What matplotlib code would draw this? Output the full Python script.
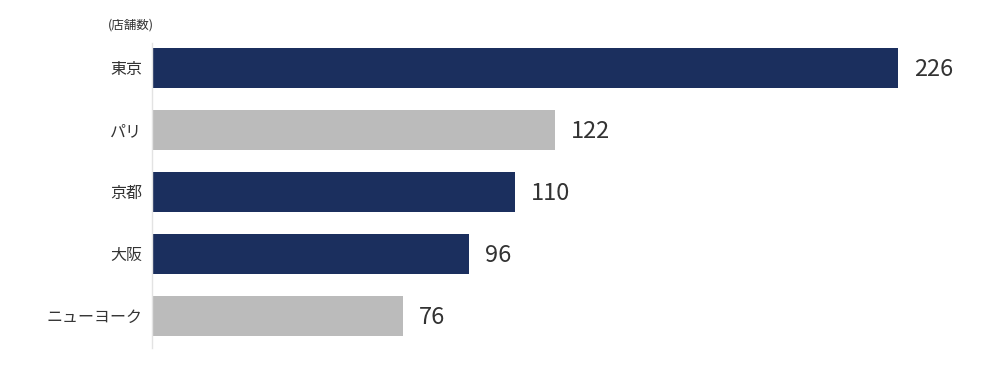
import matplotlib
matplotlib.use("Agg")
import matplotlib.pyplot as plt
from matplotlib.transforms import offset_copy

plt.rcParams['font.family'] = ['Noto Sans CJK JP', 'DejaVu Sans']

cities = ['東京', 'パリ', '京都', '大阪', 'ニューヨーク']
stores = [226, 122, 110, 96, 76]
highlight = [True, False, True, True, False]

navy = '#1b2f5e'
grey = '#bbbbbb'

fig = plt.figure(figsize=(10, 3.7), dpi=100)
ax = fig.add_axes([0.152, 0.0595, 0.828, 0.824])

ypos = list(range(len(cities)))
colors = [navy if h else grey for h in highlight]
ax.barh(ypos, stores, height=0.645, color=colors)

ax.set_xlim(0, 250.8)
ax.set_ylim(4.52, -0.40)

ax.set_yticks(ypos)
ax.set_yticklabels(cities, fontsize=11.5, color='#333333')
ax.tick_params(axis='y', length=0, pad=7)
ax.set_xticks([])

for s in ['top', 'right', 'bottom']:
    ax.spines[s].set_visible(False)
ax.spines['left'].set_color('#e3e3e3')
ax.spines['left'].set_linewidth(1)

# value labels
trans = offset_copy(ax.transData, fig=fig, x=16, y=-2, units='dots')
for y, v in zip(ypos, stores):
    ax.text(v, y, str(v), transform=trans, ha='left', va='center',
            fontsize=17, color='#333333')

fig.text(0.108, 0.932, '(店舗数)', fontsize=9, color='#333333',
         ha='left', va='center')

fig.savefig('out.png', dpi=100, facecolor='white')
